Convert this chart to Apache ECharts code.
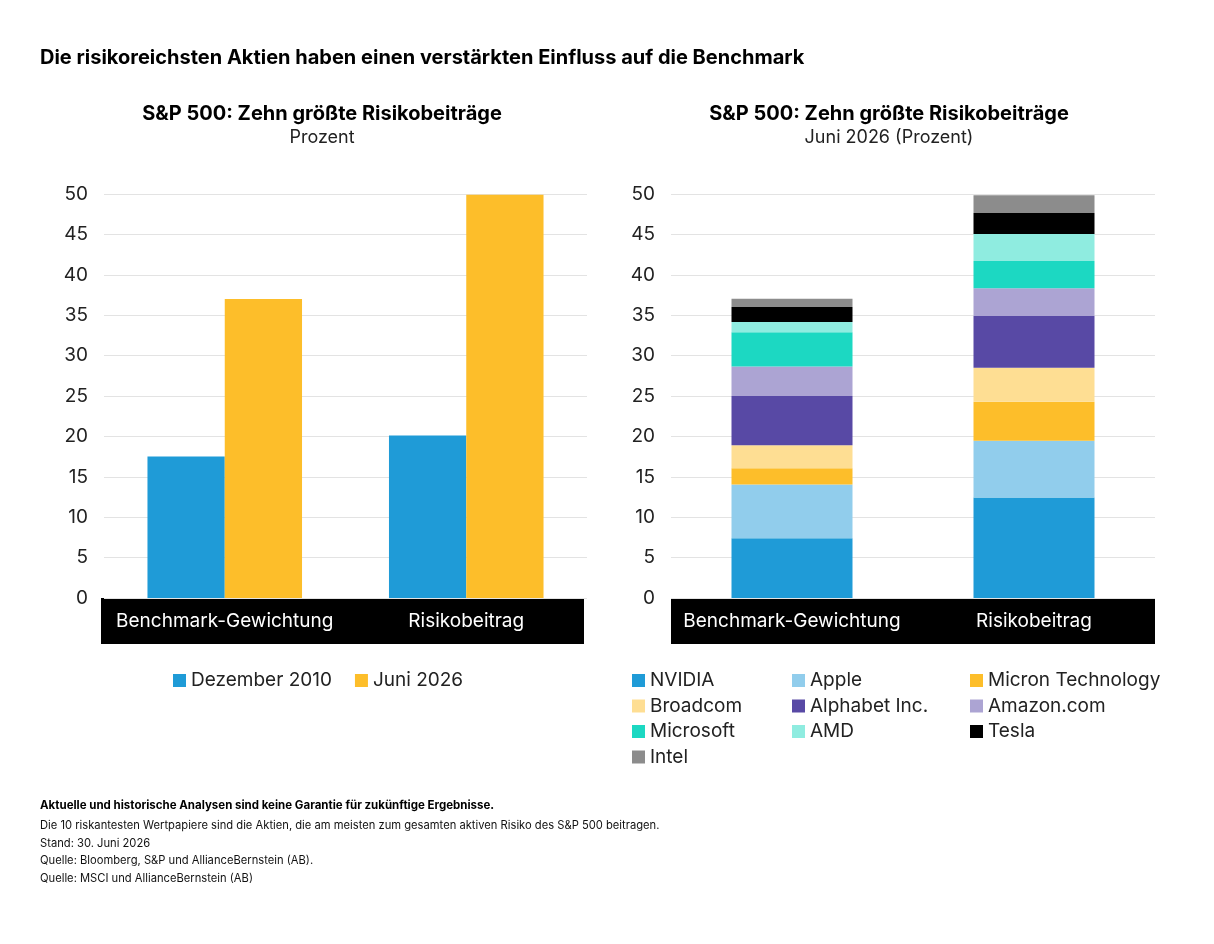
<!DOCTYPE html>
<html>
<head>
    <meta charset="utf-8">
    <title>Risikobeiträge S&P 500</title>
    <script src="https://cdn.jsdelivr.net/npm/echarts@6/dist/echarts.min.js"></script>
    <style>
        html, body { margin: 0; padding: 0; background: #ffffff; }
        #chart { width: 1214px; height: 944px; }
    </style>
</head>
<body>
    <div id="chart"></div>
    <script>
        // Kategorien und Werte (Prozent)
        var categories = ['Benchmark-Gewichtung', 'Risikobeitrag'];
        var yTicks = [0, 5, 10, 15, 20, 25, 30, 35, 40, 45, 50];

        var dez2010 = [17.5, 20.1];
        var juni2026 = [37.0, 49.9];

        var stockNames = ['NVIDIA', 'Apple', 'Micron Technology', 'Broadcom', 'Alphabet Inc.',
            'Amazon.com', 'Microsoft', 'AMD', 'Tesla', 'Intel'];
        var nvidia = [7.4, 12.45];
        var apple = [6.65, 7.0];
        var micron = [2.0, 4.85];
        var broadcom = [2.85, 4.2];
        var alphabet = [6.1, 6.4];
        var amazon = [3.65, 3.45];
        var microsoft = [4.25, 3.35];
        var amd = [1.25, 3.35];
        var tesla = [1.85, 2.6];
        var intel = [1.05, 2.2];
        var stockValues = [nvidia, apple, micron, broadcom, alphabet, amazon, microsoft, amd, tesla, intel];
        var stockColors = ['#1f9bd7', '#91cdec', '#fdbe2a', '#fede93', '#5849a5',
            '#aca4d3', '#1cd8c2', '#8fece0', '#000000', '#8c8c8c'];

        var FONT = 'Inter, "Liberation Sans", sans-serif';

        var myChart = echarts.init(document.getElementById('chart'));

        function yAxisFor(idx) {
            return {
                type: 'value',
                gridIndex: idx,
                min: yTicks[0],
                max: yTicks[yTicks.length - 1],
                interval: 5,
                axisLine: { show: false },
                axisTick: { show: false },
                axisLabel: { color: '#222', fontSize: 19, fontFamily: FONT, margin: 16 },
                splitLine: { lineStyle: { color: '#e3e3e3', width: 1 } }
            };
        }
        function xAxisFor(idx) {
            return {
                type: 'category',
                gridIndex: idx,
                data: categories,
                axisLine: { show: false },
                axisTick: { show: false },
                axisLabel: { interval: 0, color: '#ffffff', fontSize: 19, fontFamily: FONT, margin: 14 }
            };
        }

        var series = [
            {
                name: 'Dezember 2010', type: 'bar', xAxisIndex: 0, yAxisIndex: 0,
                data: dez2010, barWidth: '32%', barGap: '0%',
                itemStyle: { color: '#1f9bd7' }
            },
            {
                name: 'Juni 2026', type: 'bar', xAxisIndex: 0, yAxisIndex: 0,
                data: juni2026, barWidth: '32%', barGap: '0%',
                itemStyle: { color: '#fdbe2a' }
            }
        ];
        for (var i = 0; i < stockNames.length; i++) {
            series.push({
                name: stockNames[i], type: 'bar', stack: 'top10',
                xAxisIndex: 1, yAxisIndex: 1,
                data: stockValues[i], barWidth: '50%',
                itemStyle: { color: stockColors[i] }
            });
        }

        var legendText = { color: '#222', fontSize: 19, fontFamily: FONT, lineHeight: 19 };
        function stockLegend(names, left) {
            return {
                orient: 'vertical', left: left, top: 666,
                itemWidth: 13, itemHeight: 13, itemGap: 6.5,
                icon: 'rect', selectedMode: false,
                textStyle: legendText, data: names
            };
        }

        var option = {
            animation: false,
            backgroundColor: '#ffffff',
            title: [
                {
                    text: 'Die risikoreichsten Aktien haben einen verstärkten Einfluss auf die Benchmark',
                    left: 35, top: 43,
                    textStyle: { fontSize: 20, fontWeight: 'bold', color: '#000', fontFamily: FONT }
                },
                {
                    text: 'S&P 500: Zehn größte Risikobeiträge', subtext: 'Prozent',
                    left: 317, top: 99, textAlign: 'center', itemGap: 5,
                    textStyle: { fontSize: 20, fontWeight: 'bold', color: '#000', fontFamily: FONT },
                    subtextStyle: { fontSize: 18, color: '#222', fontFamily: FONT }
                },
                {
                    text: 'S&P 500: Zehn größte Risikobeiträge', subtext: 'Juni 2026 (Prozent)',
                    left: 884, top: 99, textAlign: 'center', itemGap: 5,
                    textStyle: { fontSize: 20, fontWeight: 'bold', color: '#000', fontFamily: FONT },
                    subtextStyle: { fontSize: 18, color: '#222', fontFamily: FONT }
                }
            ],
            legend: [
                {
                    left: 168, top: 666, itemWidth: 13, itemHeight: 13, itemGap: 23,
                    icon: 'rect', selectedMode: false, textStyle: legendText,
                    data: ['Dezember 2010', 'Juni 2026']
                },
                stockLegend(['NVIDIA', 'Broadcom', 'Microsoft', 'Intel'], 627),
                stockLegend(['Apple', 'Alphabet Inc.', 'AMD'], 787),
                stockLegend(['Micron Technology', 'Amazon.com', 'Tesla'], 965)
            ],
            grid: [
                { left: 104, width: 483, top: 194, height: 404 },
                { left: 671, width: 484, top: 194, height: 404 }
            ],
            xAxis: [xAxisFor(0), xAxisFor(1)],
            yAxis: [yAxisFor(0), yAxisFor(1)],
            series: series,
            graphic: [
                // schwarze Bänder hinter den Kategorienamen
                { type: 'rect', z: -1, silent: true, shape: { x: 101, y: 598, width: 483, height: 46 }, style: { fill: '#000' } },
                { type: 'rect', z: -1, silent: true, shape: { x: 671, y: 598, width: 484, height: 46 }, style: { fill: '#000' } },
                {
                    type: 'text', left: 40, top: 800,
                    style: {
                        text: 'Aktuelle und historische Analysen sind keine Garantie für zukünftige Ergebnisse.',
                        font: 'bold 11.5px ' + FONT, fill: '#000'
                    }
                },
                {
                    type: 'text', left: 40, top: 817,
                    style: {
                        text: 'Die 10 riskantesten Wertpapiere sind die Aktien, die am meisten zum gesamten aktiven Risiko des S&P 500 beitragen.\n' +
                            'Stand: 30. Juni 2026\n' +
                            'Quelle: Bloomberg, S&P und AllianceBernstein (AB).\n' +
                            'Quelle: MSCI und AllianceBernstein (AB)',
                        font: '11.2px ' + FONT, fill: '#111', lineHeight: 17.5
                    }
                }
            ]
        };
        myChart.setOption(option);
    </script>
</body>
</html>
